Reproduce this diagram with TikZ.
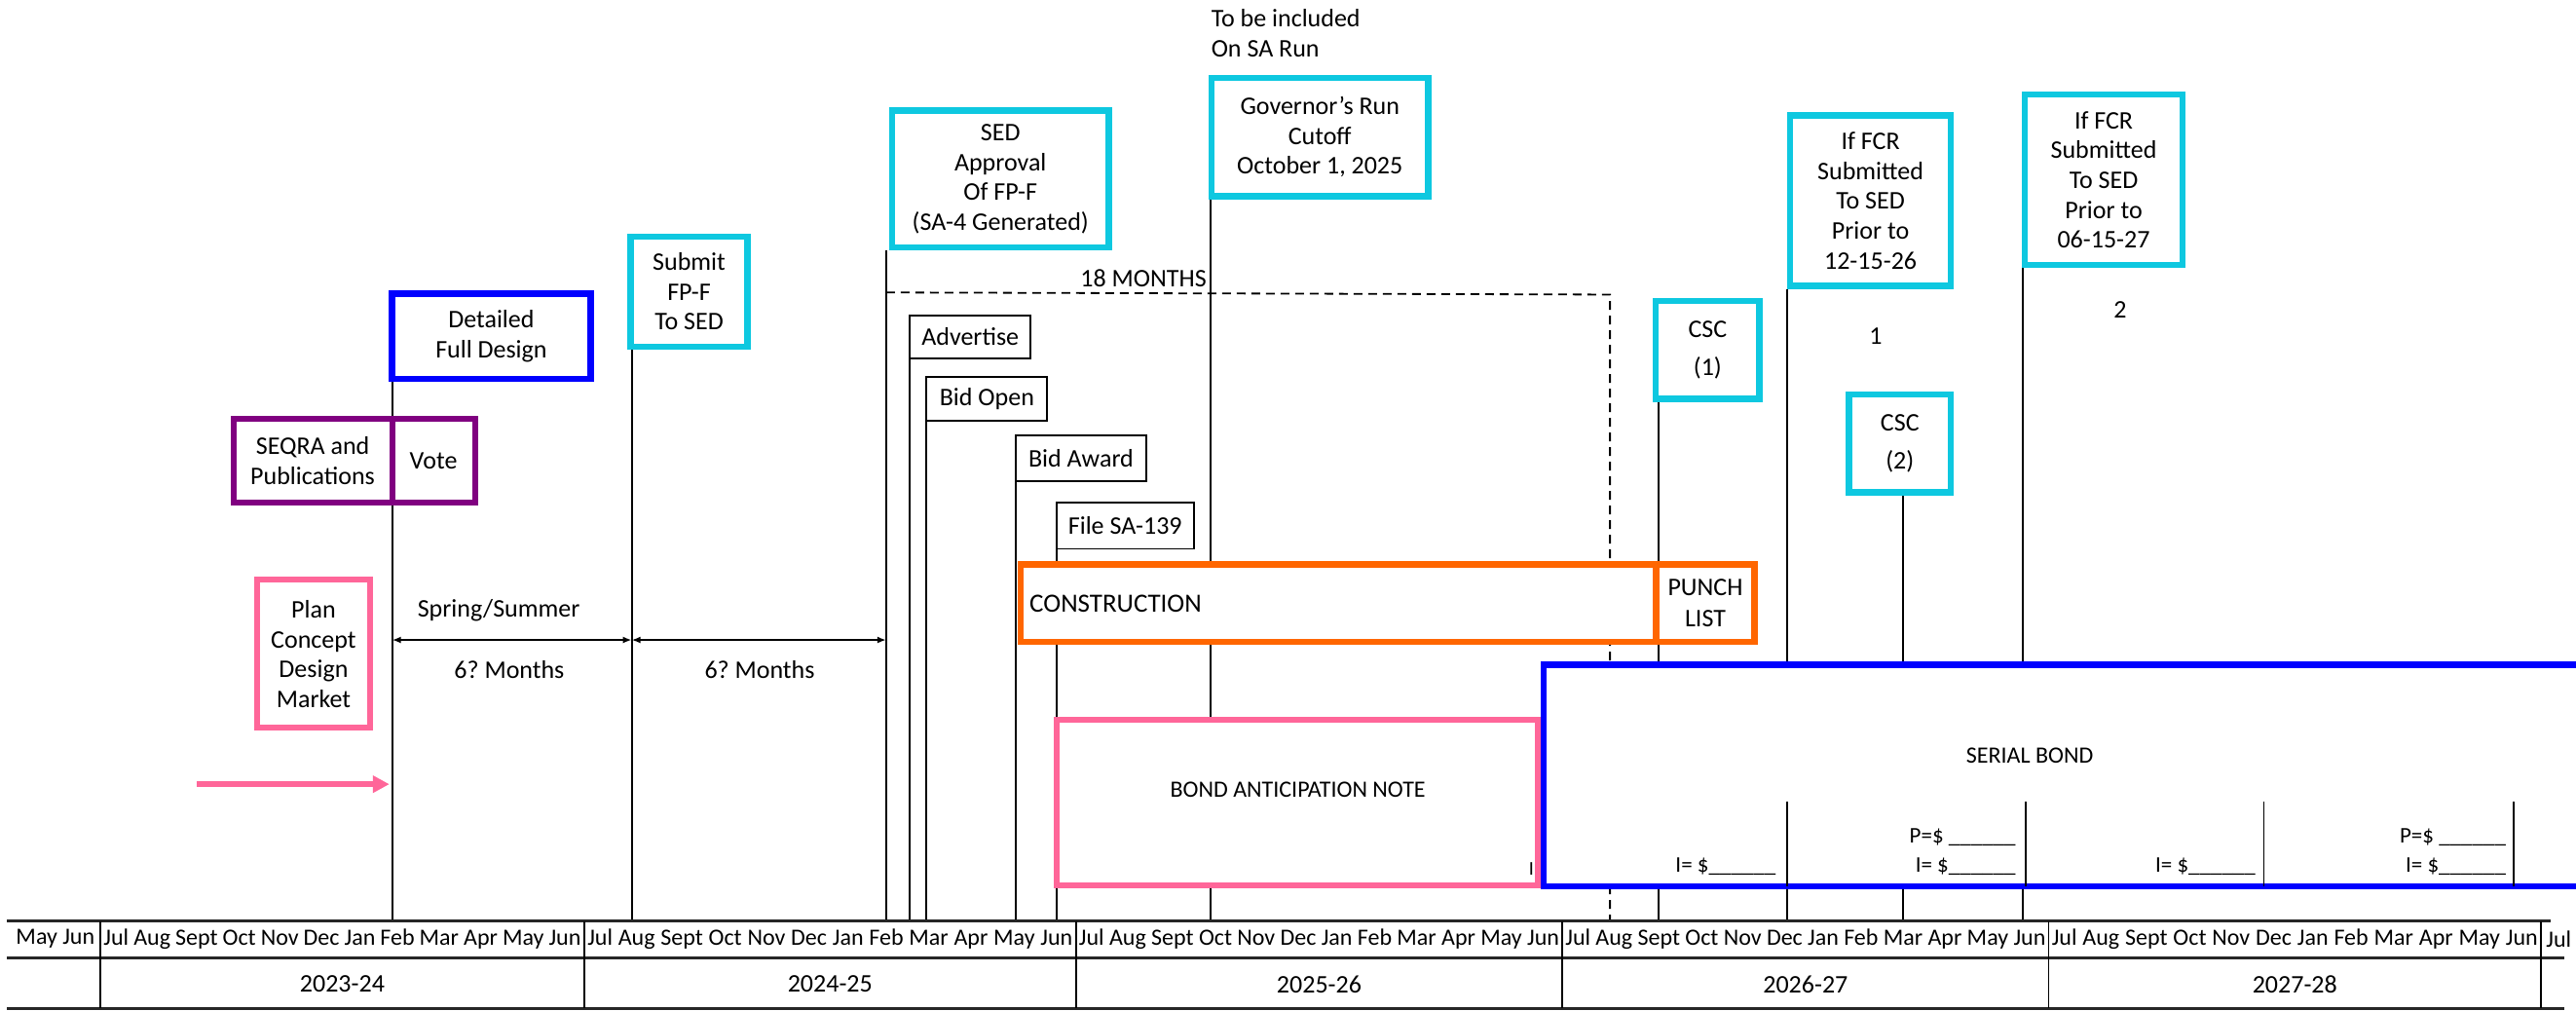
\documentclass[tikz,border=0pt]{standalone}
\usepackage{fontspec}
\setmainfont{Carlito}
\usetikzlibrary{arrows.meta,backgrounds}
\definecolor{cyanc}{RGB}{14,200,224}
\definecolor{bluec}{RGB}{0,0,255}
\definecolor{purplec}{RGB}{128,0,128}
\definecolor{orangec}{RGB}{255,102,0}
\definecolor{pinkc}{RGB}{255,102,153}
\newcommand{\fsz}[2]{\fontsize{#1}{#2}\selectfont}
\frenchspacing
\begin{document}
\frenchspacing
\begin{tikzpicture}[x=1.6869pt,y=-1.6869pt,
  txt/.style={inner sep=0pt, align=center, font=\fsz{26}{30.5}},
  bx/.style={txt, fill=white},
  sz/.style 2 args={minimum width=#1pt, minimum height=#2pt},
  cyanbox/.style={bx, draw=cyanc, line width=6.5pt},
  bluebox/.style={bx, draw=bluec, line width=6.5pt},
  purplebox/.style={bx, draw=purplec, line width=6pt},
  orangebox/.style={bx, draw=orangec, line width=6.5pt},
  pinkbox/.style={bx, draw=pinkc, line width=6pt},
  thinbox/.style={bx, draw=black, line width=1.8pt},
  vline/.style={draw=black, line width=1.9pt},
  axisline/.style={draw=black!85, line width=2.4pt},
  dashline/.style={draw=black, line width=1.8pt, dash pattern=on 9pt off 6pt},
  monthtxt/.style={inner sep=0pt, font=\fsz{24}{28}},
  yeartxt/.style={inner sep=0pt, font=\fsz{26}{30}},
  amt/.style={inner sep=0pt, align=right, font=\fsz{23}{30}},
  dbl/.style={vline, {Latex[length=9pt,width=7pt]}-{Latex[length=9pt,width=7pt]}},
  pinkarrow/.style={draw=pinkc, line width=5.5pt, -{Triangle[length=17pt,width=17pt]}},
]
\useasboundingbox (0,0) rectangle (1568,615);
\clip (0,0) rectangle (1568,615);

% ---------- axis coordinates ----------
\coordinate (aFeb) at (238.7,560.6);
\coordinate (aSub) at (384.5,560.6);
\coordinate (aSed) at (539.4,560.6);
\coordinate (aAdv) at (553.8,560.6);
\coordinate (aBo) at (564,560.6);
\coordinate (aBa) at (618.2,560.6);
\coordinate (aFile) at (643,560.6);
\coordinate (aGov) at (736.7,560.6);
\coordinate (aDash) at (980,560.6);
\coordinate (aC1) at (1009.7,560.6);
\coordinate (aF1) at (1087.6,560.6);
\coordinate (aC2) at (1158.3,560.6);
\coordinate (aF2) at (1231.3,560.6);

% ---------- boxes ----------
\node[bluebox, sz={1114.2}{227.6}] (serial) at (1269.75,471.95) {};
\node[pinkbox, sz={494.3}{169.9}] (ban) at (789.7,488.45) {};
\node[orangebox, sz={652.2}{79.8}] (constr) at (814.7,367.15) {};
\node[orangebox, sz={101.2}{79.8}, font=\fsz{26}{32.4}] (punch) at (1038,367.15) {PUNCH\\LIST};

\node[pinkbox, sz={115.2}{151.8}] (plan) at (190.85,398) {Plan\\Concept\\Design\\Market};
\node[purplebox, sz={163.1}{86}] (seqra) at (190.35,280.5) {SEQRA and\\Publications};
\node[purplebox, sz={84.9}{86}] (vote) at (263.85,280.5) {Vote};
\node[bluebox, sz={204.3}{87.6}] (detailed) at (299.05,204.55) {Detailed\\Full Design};
\node[cyanbox, sz={119.9}{112.9}] (submit) at (419.45,177.45) {Submit\\FP-F\\To SED};
\node[cyanbox, sz={222.5}{140.7}] (sed) at (608.95,108.9) {SED\\Approval\\Of FP-F\\(SA-4 Generated)};
\node[cyanbox, sz={222.7}{121.6}] (gov) at (803.4,83.45) {Governor’s Run\\Cutoff\\October 1, 2025};
\node[cyanbox, sz={106.6}{100.4}, font=\fsz{26}{38.5}] (csc1) at (1039.4,213.05) {CSC\\(1)};
\node[cyanbox, sz={165.1}{174.9}, font=\fsz{26}{30.7}] (fcr1) at (1138.55,122.15) {If FCR\\Submitted\\To SED\\Prior to\\12-15-26};
\node[cyanbox, sz={104.8}{100.4}, font=\fsz{26}{38.5}] (csc2) at (1156.45,269.95) {CSC\\(2)};
\node[cyanbox, sz={161.9}{174.9}, font=\fsz{26}{30.7}] (fcr2) at (1280.5,109.45) {If FCR\\Submitted\\To SED\\Prior to\\06-15-27};

\node[thinbox, sz={124}{44.2}] (advert) at (590.55,205.1) {Advertise};
\node[thinbox, sz={124}{45}] (bidopen) at (600.75,242.85) {Bid Open};
\node[thinbox, sz={133.3}{47.2}] (bidaward) at (658,279) {Bid Award};
\node[thinbox, sz={141.2}{47.2}] (filesa) at (684.85,320) {File SA-139};

% ---------- connectors (behind boxes) ----------
\begin{pgfonlayer}{background}
\draw[vline] (aFeb) -- (aFeb |- detailed.south);
\draw[vline] (aSub) -- (aSub |- submit.south);
\draw[vline] (aSed) -- (aSed |- sed.south);
\draw[vline] (aAdv) -- (aAdv |- advert.south);
\draw[vline] (aBo) -- (aBo |- bidopen.south);
\draw[vline] (aBa) -- (aBa |- bidaward.south);
\draw[vline] (aFile) -- (aFile |- filesa.south);
\draw[vline] (aGov) -- (aGov |- gov.south);
\draw[vline] (aC1) -- (aC1 |- csc1.south);
\draw[vline] (aF1) -- (aF1 |- fcr1.south);
\draw[vline] (aC2) -- (aC2 |- csc2.south);
\draw[vline] (aF2) -- (aF2 |- fcr2.south);
\coordinate (dA) at (539.4,178);
\coordinate (dB) at (980,179.3);
\draw[dashline] (dA) -- (dB) -- (aDash);
\end{pgfonlayer}

% ---------- serial bond cells ----------
\foreach \xx/\nm in {1087.6/sa,1233/sb,1378/sc,1530.3/sd}{
  \coordinate (\nm t) at (\xx,488);
  \coordinate (\nm b) at (\xx,539.4);
  \draw[vline] (\nm t) -- (\nm b);
}
\node[amt, anchor=east] (am1) at (1081,527.6) {I= \$\_\_\_\_\_\_};
\node[amt, anchor=east] (am2) at (1227,518.7) {P=\$ \_\_\_\_\_\_\\I= \$\_\_\_\_\_\_};
\node[amt, anchor=east] (am3) at (1373,527.6) {I= \$\_\_\_\_\_\_};
\node[amt, anchor=east] (am4) at (1525.4,518.7) {P=\$ \_\_\_\_\_\_\\I= \$\_\_\_\_\_\_};

% ---------- texts ----------
\node[txt, font=\fsz{24}{28}] (bantxt) at (790,480.6) {BOND ANTICIPATION NOTE};
\node[txt, font=\fsz{20}{24}] (bani) at (932.1,528.6) {I};
\node[txt, font=\fsz{24}{28}] (sertxt) at (1235.5,460) {SERIAL BOND};
\node[txt, font=\fsz{27}{30}, anchor=west] (contxt) at (626.6,367.5) {CONSTRUCTION};
\node[txt, align=left, anchor=west, font=\fsz{26}{30.7}] (sarun) at (737.2,20.4) {To be included\\On SA Run};
\node[txt] (months18) at (696,169.2) {18 MONTHS};
\node[txt] (one) at (1141.8,204.6) {1};
\node[txt] (two) at (1290.5,188.4) {2};
\node[txt] (spring) at (303.6,371.6) {Spring/Summer};
\node[txt] (six1) at (310,407.6) {6? Months};
\node[txt] (six2) at (462.4,407.6) {6? Months};

% ---------- arrows ----------
\coordinate (s1) at (238.7,389.5);
\coordinate (s2) at (384.5,389.5);
\coordinate (s3) at (539.4,389.5);
\draw[dbl] (s1) -- (s2);
\draw[dbl] (s2) -- (s3);
\coordinate (pa) at (120,477.3);
\coordinate (pb) at (237,477.3);
\draw[pinkarrow] (pa) -- (pb);

% ---------- time axis ----------
\draw[axisline] (4.2,560.6) -- (1552.6,560.6);
\draw[axisline] (4.2,583) -- (1561,583);
\draw[axisline] (4.2,613.8) -- (1561,613.8);
\foreach \xx in {61.1,355.6,654.9,951,1247,1546.7}{
  \draw[vline] (\xx,560.6) -- (\xx,613.8);
}
\node[monthtxt] (mleft) at (33.7,571.5) {May Jun};
\node[monthtxt] (m1) at (208.35,571.5) {\makebox[490pt][s]{Jul Aug Sept Oct Nov Dec Jan Feb Mar Apr May Jun}};
\node[monthtxt] (m2) at (505.25,571.5) {\makebox[498pt][s]{Jul Aug Sept Oct Nov Dec Jan Feb Mar Apr May Jun}};
\node[monthtxt] (m3) at (802.95,571.5) {\makebox[493pt][s]{Jul Aug Sept Oct Nov Dec Jan Feb Mar Apr May Jun}};
\node[monthtxt] (m4) at (1099,571.5) {\makebox[493pt][s]{Jul Aug Sept Oct Nov Dec Jan Feb Mar Apr May Jun}};
\node[monthtxt] (m5) at (1396.85,571.5) {\makebox[499pt][s]{Jul Aug Sept Oct Nov Dec Jan Feb Mar Apr May Jun}};
\node[monthtxt] (mright) at (1557.5,571.5) {Jul};
\node[yeartxt] (y1) at (208.35,599) {2023-24};
\node[yeartxt] (y2) at (505.25,599) {2024-25};
\node[yeartxt] (y3) at (802.95,599) {2025-26};
\node[yeartxt] (y4) at (1099,599) {2026-27};
\node[yeartxt] (y5) at (1396.85,599) {2027-28};
\end{tikzpicture}
\end{document}
